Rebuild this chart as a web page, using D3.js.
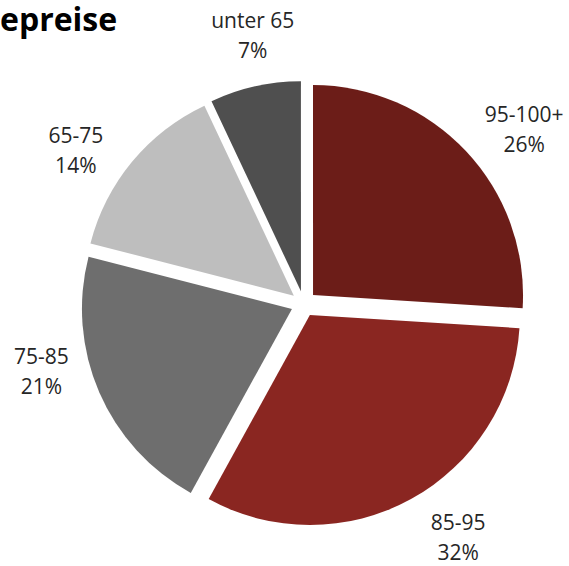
<!DOCTYPE html>
<html>
<head>
<meta charset="utf-8">
<script src="https://cdn.jsdelivr.net/npm/d3@7/dist/d3.min.js"></script>
<style>
  html, body { margin: 0; padding: 0; background: #ffffff; }
  svg { display: block; }
  text { font-family: "Open Sans", "Noto Sans", sans-serif; fill: #262626; }
</style>
</head>
<body>
<svg id="chart" width="569" height="566"></svg>
<script>
// Price bands and their share of the total (percent)
const categories = ["95-100+", "85-95", "75-85", "65-75", "unter 65"];
const shares = [26, 32, 21, 14, 7];
const colors = ["#6c1d18", "#8a2621", "#6e6e6e", "#bebebe", "#4f4f4f"];
const title = "epreise";

// Layout
const width = 569, height = 566;
const cx = 303.7, cy = 303.8;
const radius = 210;
const explode = 12.8;
const labelRadius = 275;
// fine adjustment of each label box around its polar anchor
const labelNudge = {
  "95-100+": [20, 13],
  "85-95": [22, -8],
  "75-85": [-10, -42],
  "65-75": [-16, 21],
  "unter 65": [9, 0]
};

const svg = d3.select("#chart");

svg.append("text")
  .attr("x", 0)
  .attr("y", 30.5)
  .attr("text-anchor", "start")
  .style("font-weight", "700")
  .style("font-size", "32px")
  .style("fill", "#000")
  .text(title);

const data = categories.map((c, i) => ({ category: c, value: shares[i], color: colors[i] }));

const pie = d3.pie()
  .value(d => d.value)
  .sort(null)
  .startAngle(0)
  .endAngle(2 * Math.PI);

const arc = d3.arc().innerRadius(0).outerRadius(radius);
const arcs = pie(data);

const g = svg.append("g").attr("transform", `translate(${cx},${cy})`);

g.selectAll("path.slice")
  .data(arcs)
  .join("path")
  .attr("class", "slice")
  .attr("fill", d => d.data.color)
  .attr("transform", d => {
    const mid = (d.startAngle + d.endAngle) / 2;
    return `translate(${explode * Math.sin(mid)},${-explode * Math.cos(mid)})`;
  })
  .attr("d", arc);

const labels = g.selectAll("text.label")
  .data(arcs)
  .join("text")
  .attr("class", "label")
  .attr("text-anchor", "middle")
  .style("font-size", "21px")
  .attr("transform", d => {
    const mid = (d.startAngle + d.endAngle) / 2;
    const n = labelNudge[d.data.category] || [0, 0];
    const x = labelRadius * Math.sin(mid) + n[0];
    const y = -labelRadius * Math.cos(mid) + n[1];
    return `translate(${x},${y})`;
  });

labels.append("tspan")
  .attr("x", 0)
  .attr("y", -7)
  .text(d => d.data.category);

labels.append("tspan")
  .attr("x", 0)
  .attr("y", 23)
  .text(d => d.data.value + "%");
</script>
</body>
</html>
